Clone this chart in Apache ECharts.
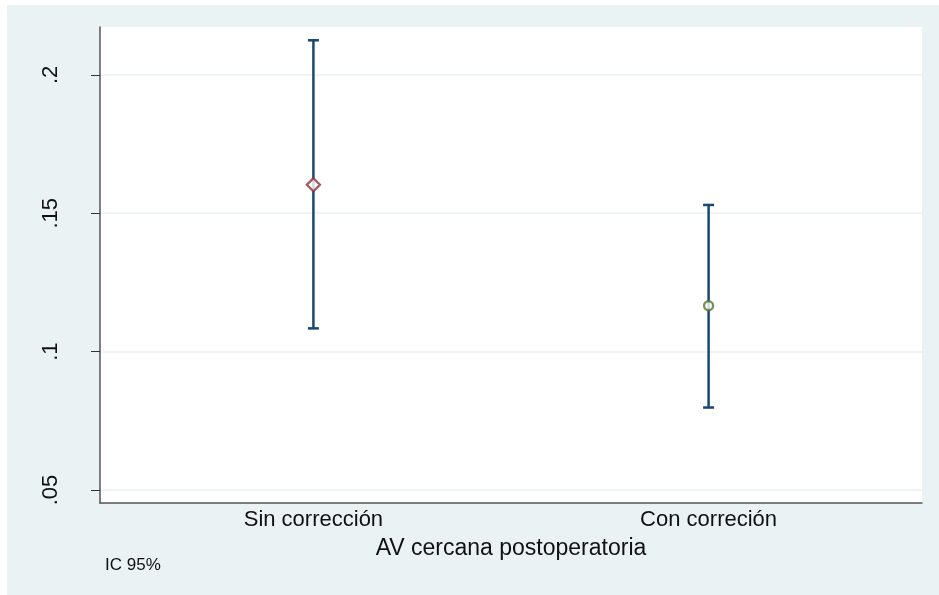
<!DOCTYPE html>
<html>
<head>
<meta charset="utf-8">
<script src="https://cdn.jsdelivr.net/npm/echarts@6/dist/echarts.min.js"></script>
<style>
  html, body { margin: 0; padding: 0; background: #ffffff; }
  #chart { position: absolute; left: 7px; top: 5px; width: 932px; height: 590px; }
</style>
</head>
<body>
<div id="chart"></div>
<script>
// Mean with 95% confidence interval per group
const categories = ['Sin corrección', 'Con correción'];
const means = [0.1603, 0.1166];
const lower = [0.1084, 0.0798];
const upper = [0.2125, 0.1530];
const yTicks = [0.05, 0.1, 0.15, 0.2];
const yTickLabels = ['.05', '.1', '.15', '.2'];
const xTitle = 'AV cercana postoperatoria';
const note = 'IC 95%';

const markerStyles = [
  { symbol: 'diamond', size: [13, 13], color: '#90353b' },
  { symbol: 'circle', size: 9, color: '#55752f' }
];

const font = '"Liberation Sans", Arial, sans-serif';
const xPos = categories.map((c, i) => i + 1);

const chart = echarts.init(document.getElementById('chart'), null, { renderer: 'canvas' });

chart.setOption({
  backgroundColor: '#eaf2f3',
  animation: false,
  grid: {
    left: 93, right: 17, top: 22, bottom: 92,
    show: true, backgroundColor: '#ffffff', borderWidth: 0
  },
  xAxis: {
    type: 'value',
    min: 0.46, max: 2.54,
    name: xTitle,
    nameLocation: 'middle',
    nameGap: 34,
    nameTextStyle: { fontFamily: font, fontSize: 23, color: '#111' },
    axisLine: { show: true, onZero: false, lineStyle: { color: '#555', width: 1.5 } },
    axisTick: { show: false },
    splitLine: { show: false },
    axisLabel: {
      customValues: xPos,
      formatter: v => categories[Math.round(v) - 1] || '',
      fontFamily: font, fontSize: 22, color: '#111', margin: 6
    }
  },
  yAxis: {
    type: 'value',
    min: 0.0453, max: 0.2173,
    axisLine: { show: true, onZero: false, lineStyle: { color: '#555', width: 1.5 } },
    axisTick: { show: true, customValues: yTicks, length: 9, lineStyle: { color: '#333', width: 1 } },
    splitLine: { show: false },
    axisLabel: {
      customValues: yTicks,
      formatter: v => {
        const i = yTicks.findIndex(t => Math.abs(t - v) < 1e-9);
        return i >= 0 ? yTickLabels[i] : '';
      },
      rotate: 90,
      fontFamily: font, fontSize: 22, color: '#111', margin: 38
    }
  },
  graphic: [{
    type: 'text',
    left: 98, top: 552,
    style: { text: note, fontFamily: font, fontSize: 17, fill: '#111' }
  }],
  series: [
    {
      // horizontal reference lines at the y ticks
      type: 'line',
      data: [],
      silent: true,
      z: 0,
      markLine: {
        silent: true,
        symbol: 'none',
        z: 0,
        label: { show: false },
        lineStyle: { color: '#eaf2f3', width: 1.5, type: 'solid' },
        data: yTicks.map(v => ({ yAxis: v }))
      }
    },
    {
      // confidence interval whiskers with caps
      type: 'custom',
      data: xPos.map((x, i) => [x, lower[i], upper[i]]),
      encode: { x: 0, y: [1, 2] },
      z: 5,
      renderItem: (params, api) => {
        const x = api.value(0);
        const lo = api.coord([x, api.value(1)]);
        const hi = api.coord([x, api.value(2)]);
        const cap = 5.5;
        const style = { stroke: '#1a476f', lineWidth: 2.5 };
        return {
          type: 'group',
          children: [
            { type: 'line', shape: { x1: lo[0], y1: lo[1], x2: hi[0], y2: hi[1] }, style },
            { type: 'line', shape: { x1: hi[0] - cap, y1: hi[1], x2: hi[0] + cap, y2: hi[1] }, style },
            { type: 'line', shape: { x1: lo[0] - cap, y1: lo[1], x2: lo[0] + cap, y2: lo[1] }, style }
          ]
        };
      }
    },
    ...xPos.map((x, i) => ({
      type: 'scatter',
      z: 6,
      data: [[x, means[i]]],
      symbol: markerStyles[i].symbol,
      symbolSize: markerStyles[i].size,
      itemStyle: { color: '#ffffff', borderColor: markerStyles[i].color, borderWidth: 2.4 }
    }))
  ]
});
</script>
</body>
</html>
